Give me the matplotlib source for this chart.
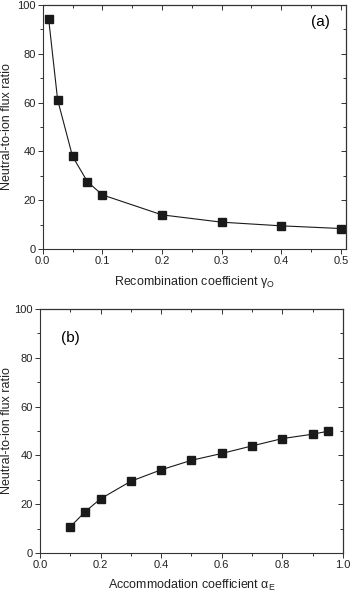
import numpy as np
import matplotlib
matplotlib.use("Agg")
import matplotlib.pyplot as plt
from matplotlib.ticker import MultipleLocator

plt.rcParams["font.family"] = ["Liberation Sans", "DejaVu Sans"]
plt.rcParams["mathtext.fontset"] = "custom"
plt.rcParams["mathtext.rm"] = "Liberation Sans"

# (a) recombination coefficient scan
gamma_o = [0.01, 0.025, 0.05, 0.075, 0.1, 0.2, 0.3, 0.4, 0.5]
ratio_a = [94.3, 61.2, 38.0, 27.6, 22.2, 14.0, 11.0, 9.5, 8.4]

# (b) accommodation coefficient scan
alpha_e = [0.1, 0.15, 0.2, 0.3, 0.4, 0.5, 0.6, 0.7, 0.8, 0.9, 0.95]
ratio_b = [10.7, 17.0, 22.2, 29.4, 34.1, 38.0, 40.8, 43.9, 46.9, 48.7, 49.9]

fig = plt.figure(figsize=(3.5, 5.95), dpi=100)
ax1 = fig.add_axes([0.122, 0.5815, 0.867, 0.410])
ax2 = fig.add_axes([0.114, 0.0706, 0.866, 0.410])


def style_axes(ax, xmaj, xmin):
    ax.xaxis.set_major_locator(MultipleLocator(xmaj))
    ax.xaxis.set_minor_locator(MultipleLocator(xmin))
    ax.yaxis.set_major_locator(MultipleLocator(20))
    ax.yaxis.set_minor_locator(MultipleLocator(10))
    ax.set_ylim(0, 100)
    for s in ax.spines.values():
        s.set_linewidth(0.8)
        s.set_color("#333333")
    ax.tick_params(which="both", direction="out", colors="#333333",
                   labelcolor="#222222", labelsize=8, width=0.7, pad=1.5)
    ax.tick_params(which="major", length=3.5)
    ax.tick_params(which="minor", length=2)
    # inward mirrored ticks on top/right
    sec_x = ax.secondary_xaxis("top")
    sec_x.xaxis.set_major_locator(MultipleLocator(xmaj))
    sec_x.xaxis.set_minor_locator(MultipleLocator(xmin))
    sec_x.tick_params(which="both", direction="in", labeltop=False,
                      colors="#333333", width=0.7)
    sec_x.tick_params(which="major", length=3.5)
    sec_x.tick_params(which="minor", length=2)
    sec_y = ax.secondary_yaxis("right")
    sec_y.yaxis.set_major_locator(MultipleLocator(20))
    sec_y.yaxis.set_minor_locator(MultipleLocator(10))
    sec_y.tick_params(which="both", direction="in", labelright=False,
                      colors="#333333", width=0.7)
    sec_y.tick_params(which="major", length=3.5)
    sec_y.tick_params(which="minor", length=2)
    ax.set_ylabel("Neutral-to-ion flux ratio", fontsize=9, color="#222222")


ax1.plot(gamma_o, ratio_a, "-s", color="#1a1a1a", lw=0.8, ms=5.5)
ax1.set_xlim(0, 0.509)
style_axes(ax1, 0.1, 0.05)
ax1.yaxis.set_label_coords(-0.098, 0.5)
ax1.set_xlabel("Recombination coefficient γ$_\\mathrm{O}$", fontsize=9, color="#222222", labelpad=6)
ax1.text(0.915, 0.93, "(a)", transform=ax1.transAxes, fontsize=11, ha="center", va="center")

ax2.plot(alpha_e, ratio_b, "-s", color="#1a1a1a", lw=0.8, ms=5.5)
ax2.set_xlim(0, 1.0)
style_axes(ax2, 0.2, 0.1)
ax2.yaxis.set_label_coords(-0.089, 0.5)
ax2.set_xlabel("Accommodation coefficient α$_\\mathrm{E}$", fontsize=9, color="#222222", labelpad=6)
ax2.text(0.10, 0.88, "(b)", transform=ax2.transAxes, fontsize=11, ha="center", va="center")

fig.savefig("out.png", dpi=100)
